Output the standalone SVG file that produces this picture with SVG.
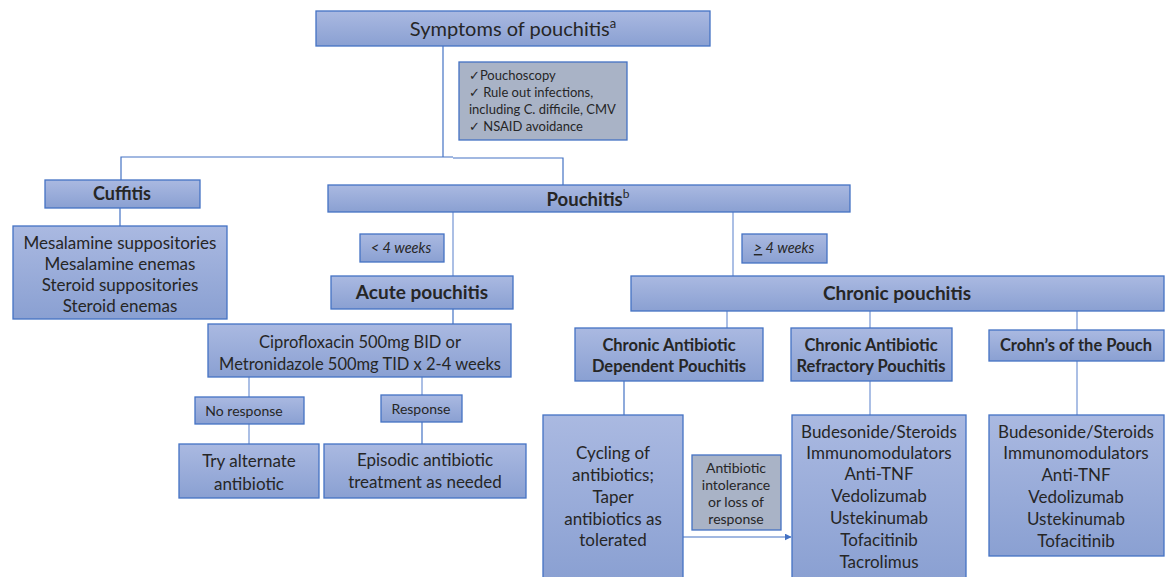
<svg xmlns="http://www.w3.org/2000/svg" width="1168" height="577" viewBox="0 0 1168 577">
<defs>
<linearGradient id="gb" x1="0" y1="0" x2="0" y2="1">
<stop offset="0" stop-color="#aab9e1"/>
<stop offset="1" stop-color="#8aa0d2"/>
</linearGradient>
<marker id="arr" viewBox="0 0 10 10" refX="9" refY="5" markerWidth="7" markerHeight="7" orient="auto" markerUnits="userSpaceOnUse">
<path d="M0,0 L10,5 L0,10 z" fill="#4472c4"/>
</marker>
</defs>
<style>
.b{fill:url(#gb);stroke:#4472c4;stroke-width:1.3}
.gr{fill:#a9b3c6;stroke:#4472c4;stroke-width:1.3}
text{font-family:Lato,"Liberation Sans","DejaVu Sans",sans-serif;fill:#262626;text-anchor:middle}
.t16{font-size:17px}
.t13{font-size:14px}
.t12{font-size:13px}
.bold{font-weight:bold}
.c{fill:none;stroke:#4472c4;stroke-width:1.2}
.cl{fill:none;stroke:#8faadc;stroke-width:1.5}
</style>
<rect width="1168" height="577" fill="#ffffff"/>
<g id="connectors">
<path class="c" d="M443,46 V157"/>
<path class="c" d="M121,180 V157 H453 M453,158 H563 V185"/>
<path class="c" d="M120,208 V226"/>
<path class="cl" d="M453,212 V276"/>
<path class="cl" d="M733,212 V276"/>
<path class="c" d="M453,309 V324"/>
<path class="cl" d="M727,311 V328"/>
<path class="cl" d="M870,311 V328"/>
<path class="cl" d="M1077,311 V330"/>
<path class="cl" d="M249,377 V397"/>
<path class="cl" d="M249,424 V444"/>
<path class="cl" d="M422,377 V395"/>
<path class="c" d="M422,422 V444"/>
<path class="c" d="M624,381 V415"/>
<path class="cl" d="M870,381 V415"/>
<path class="cl" d="M1077,361 V415"/>
<path class="c" d="M683,537 H791" marker-end="url(#arr)"/>
</g>
<g id="symptoms">
<rect class="b" x="316" y="11" width="394" height="35"/>
<text x="513" y="36" style="font-size:20px">Symptoms of pouchitis<tspan style="font-size:13px" dy="-8">a</tspan></text>
</g>
<g id="checklist">
<rect class="gr" x="459" y="62" width="168" height="78"/>
<text x="469" y="80" class="t12" style="text-anchor:start">✓Pouchoscopy</text>
<text x="469" y="97" class="t12" style="text-anchor:start">✓ Rule out infections,</text>
<text x="469" y="114" class="t12" style="text-anchor:start">including C. difficile, CMV</text>
<text x="469" y="131" class="t12" style="text-anchor:start">✓ NSAID avoidance</text>
</g>
<g id="cuffitis">
<rect class="b" x="45" y="180" width="155" height="28"/>
<text x="122" y="200" class="bold" style="font-size:18px">Cuffitis</text>
</g>
<g id="cuffitis-tx">
<rect class="b" x="13" y="226" width="214" height="93"/>
<text x="120" y="249" class="t16">Mesalamine suppositories</text>
<text x="120" y="270" class="t16">Mesalamine enemas</text>
<text x="120" y="291" class="t16">Steroid suppositories</text>
<text x="120" y="312" class="t16">Steroid enemas</text>
</g>
<g id="pouchitis">
<rect class="b" x="328" y="185" width="522" height="27"/>
<text x="588" y="206" class="bold" style="font-size:18.5px">Pouchitis<tspan style="font-size:12px;font-weight:normal" dy="-8">b</tspan></text>
</g>
<g id="lt4">
<rect class="b" x="360" y="234" width="84" height="28"/>
<text x="401" y="253" style="font-size:14.5px;font-style:italic">&lt; 4 weeks</text>
</g>
<g id="ge4">
<rect class="b" x="742" y="234" width="85" height="29"/>
<text x="784" y="253" style="font-size:14.5px;font-style:italic"><tspan text-decoration="underline">&gt;</tspan> 4 weeks</text>
</g>
<g id="acute">
<rect class="b" x="331" y="276" width="182" height="33"/>
<text x="422" y="299" class="bold" style="font-size:19px">Acute pouchitis</text>
</g>
<g id="chronic">
<rect class="b" x="631" y="276" width="533" height="35"/>
<text x="897" y="300" class="bold" style="font-size:19px">Chronic pouchitis</text>
</g>
<g id="cipro">
<rect class="b" x="208" y="324" width="303" height="53"/>
<text x="360" y="348" style="font-size:16.5px">Ciprofloxacin 500mg BID or</text>
<text x="360" y="370" style="font-size:16.5px">Metronidazole 500mg TID x 2-4 weeks</text>
</g>
<g id="noresponse">
<rect class="b" x="195" y="397" width="109" height="27"/>
<text x="244" y="416" class="t13">No response</text>
</g>
<g id="response">
<rect class="b" x="381" y="395" width="81" height="27"/>
<text x="421" y="414" class="t13">Response</text>
</g>
<g id="tryalt">
<rect class="b" x="179" y="444" width="140" height="54"/>
<text x="249" y="467" class="t16">Try alternate</text>
<text x="249" y="490" class="t16">antibiotic</text>
</g>
<g id="episodic">
<rect class="b" x="324" y="444" width="202" height="54"/>
<text x="425" y="466" class="t16">Episodic antibiotic</text>
<text x="425" y="488" class="t16">treatment as needed</text>
</g>
<g id="cad">
<rect class="b" x="575" y="328" width="188" height="53"/>
<text x="669" y="351" class="bold" style="font-size:16.5px">Chronic Antibiotic</text>
<text x="669" y="372" class="bold" style="font-size:16.5px">Dependent Pouchitis</text>
</g>
<g id="carp">
<rect class="b" x="791" y="328" width="161" height="53"/>
<text x="871" y="351" class="bold" style="font-size:16.5px">Chronic Antibiotic</text>
<text x="871" y="372" class="bold" style="font-size:16.5px">Refractory Pouchitis</text>
</g>
<g id="crohns">
<rect class="b" x="989" y="330" width="175" height="31"/>
<text x="1076" y="351" class="bold" style="font-size:16.5px">Crohn’s of the Pouch</text>
</g>
<g id="cycling">
<rect class="b" x="543" y="415" width="140" height="165"/>
<text x="613" y="459" class="t16">Cycling of</text>
<text x="613" y="481" class="t16">antibiotics;</text>
<text x="613" y="503" class="t16">Taper</text>
<text x="613" y="525" class="t16">antibiotics as</text>
<text x="613" y="546" class="t16">tolerated</text>
</g>
<g id="intolerance">
<rect class="gr" x="692" y="455" width="89" height="75"/>
<text x="736" y="473" style="font-size:14px">Antibiotic</text>
<text x="736" y="490" style="font-size:14px">intolerance</text>
<text x="736" y="507" style="font-size:14px">or loss of</text>
<text x="736" y="524" style="font-size:14px">response</text>
</g>
<g id="carp-tx">
<rect class="b" x="792" y="415" width="174" height="165"/>
<text x="879" y="438" class="t16">Budesonide/Steroids</text>
<text x="879" y="459" class="t16">Immunomodulators</text>
<text x="879" y="480" class="t16">Anti-TNF</text>
<text x="879" y="502" class="t16">Vedolizumab</text>
<text x="879" y="524" class="t16">Ustekinumab</text>
<text x="879" y="546" class="t16">Tofacitinib</text>
<text x="879" y="568" class="t16">Tacrolimus</text>
</g>
<g id="crohns-tx">
<rect class="b" x="989" y="415" width="175" height="141"/>
<text x="1076" y="438" class="t16">Budesonide/Steroids</text>
<text x="1076" y="459" class="t16">Immunomodulators</text>
<text x="1076" y="481" class="t16">Anti-TNF</text>
<text x="1076" y="503" class="t16">Vedolizumab</text>
<text x="1076" y="525" class="t16">Ustekinumab</text>
<text x="1076" y="547" class="t16">Tofacitinib</text>
</g>
</svg>
